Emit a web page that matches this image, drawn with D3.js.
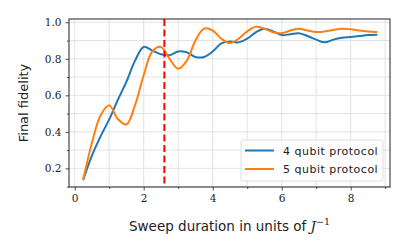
<!DOCTYPE html>
<html>
<head>
<meta charset="utf-8">
<script src="https://cdn.jsdelivr.net/npm/d3@7"></script>
<style>
  body { margin: 0; background: #fff; }
</style>
</head>
<body>
<div id="chart"></div>
<script>
// sweep durations (units of 1/J)
var durations = [0.25, 0.5, 0.75, 1.0, 1.25, 1.5, 1.75, 2.0, 2.25, 2.5, 2.75, 3.0,
    3.25, 3.5, 3.75, 4.0, 4.25, 4.5, 4.75, 5.0, 5.25, 5.5, 5.75, 6.0,
    6.25, 6.5, 6.75, 7.0, 7.25, 7.5, 7.75, 8.0, 8.25, 8.5, 8.75];

var fid4 = [0.14, 0.27, 0.375, 0.468, 0.575, 0.675, 0.79, 0.865, 0.845, 0.825, 0.82, 0.84,
    0.835, 0.81, 0.81, 0.84, 0.885, 0.895, 0.89, 0.91, 0.945, 0.965, 0.95, 0.93,
    0.935, 0.94, 0.925, 0.905, 0.89, 0.905, 0.915, 0.92, 0.925, 0.93, 0.932];

var fid5 = [0.14, 0.34, 0.49, 0.545, 0.47, 0.44, 0.547, 0.71, 0.84, 0.865, 0.80, 0.745,
    0.79, 0.90, 0.965, 0.955, 0.91, 0.886, 0.91, 0.95, 0.975, 0.965, 0.945, 0.94,
    0.955, 0.965, 0.955, 0.947, 0.95, 0.958, 0.965, 0.962, 0.955, 0.95, 0.947];

var seriesNames = ["4 qubit protocol", "5 qubit protocol"];
var seriesColors = ["#1f77b4", "#ff7f0e"];
var cutoff = 2.6;

var xMajor = [0, 2, 4, 6, 8], xMinor = [1, 3, 5, 7, 9];
var yMajor = [0.2, 0.4, 0.6, 0.8, 1.0], yMinor = [0.1, 0.3, 0.5, 0.7, 0.9];

var width = 408, height = 252;
var margin = { top: 19, right: 18, bottom: 65, left: 69 };
var w = width - margin.left - margin.right,
    h = height - margin.top - margin.bottom;

var svg = d3.select("#chart").append("svg")
    .attr("width", width)
    .attr("height", height);

var g = svg.append("g")
    .attr("transform", "translate(" + margin.left + "," + margin.top + ")");

var x = d3.scaleLinear().domain([-0.165, 9.14]).range([0, w]);
var y = d3.scaleLinear().domain([0.098, 1.018]).range([h, 0]);

// grid (major + minor)
g.append("g").selectAll("line")
    .data(xMajor.concat(xMinor))
    .enter().append("line")
    .attr("x1", function(d) { return x(d); })
    .attr("x2", function(d) { return x(d); })
    .attr("y1", 0).attr("y2", h)
    .style("stroke", "#dcdcdc").style("stroke-width", 0.8);

g.append("g").selectAll("line")
    .data(yMajor.concat(yMinor))
    .enter().append("line")
    .attr("y1", function(d) { return y(d); })
    .attr("y2", function(d) { return y(d); })
    .attr("x1", 0).attr("x2", w)
    .style("stroke", "#dcdcdc").style("stroke-width", 0.8);

// axes
g.append("g")
    .attr("transform", "translate(0," + h + ")")
    .call(d3.axisBottom(x).tickValues(xMajor).tickSize(3.5).tickPadding(4).tickFormat(d3.format("d")));
g.append("g")
    .attr("transform", "translate(0," + h + ")")
    .call(d3.axisBottom(x).tickValues(xMinor).tickSize(2).tickFormat(""));

g.append("g")
    .call(d3.axisLeft(y).tickValues(yMajor).tickSize(3.5).tickPadding(4).tickFormat(d3.format(".1f")));
g.append("g")
    .call(d3.axisLeft(y).tickValues(yMinor).tickSize(2).tickFormat(""));

g.selectAll(".domain").remove();
g.selectAll(".tick line").style("stroke", "#222").style("stroke-width", 0.8);
g.selectAll(".tick text")
    .style("font-family", "'DejaVu Serif', 'Liberation Serif', serif")
    .style("font-size", "10.5px")
    .style("fill", "#222");

// lines
var line = d3.line()
    .x(function(d) { return x(d[0]); })
    .y(function(d) { return y(d[1]); })
    .curve(d3.curveCatmullRom.alpha(0.5));

[fid4, fid5].forEach(function(vals, i) {
    g.append("path")
        .datum(durations.map(function(d, j) { return [d, vals[j]]; }))
        .attr("d", line)
        .style("fill", "none")
        .style("stroke", seriesColors[i])
        .style("stroke-width", 2)
        .style("stroke-linecap", "round");
});

// cutoff marker
g.append("line")
    .attr("x1", x(cutoff)).attr("x2", x(cutoff))
    .attr("y1", 0).attr("y2", h)
    .style("stroke", "#ff0000")
    .style("stroke-width", 2)
    .style("stroke-dasharray", "7,3.5");

// frame
g.append("rect")
    .attr("width", w).attr("height", h)
    .style("fill", "none")
    .style("stroke", "#222")
    .style("stroke-width", 1);

// legend
var lg = g.append("g").attr("transform", "translate(" + (w - 149) + "," + (h - 47) + ")");
lg.append("rect")
    .attr("width", 142).attr("height", 41)
    .attr("rx", 2.5)
    .style("fill", "#fff").style("fill-opacity", 0.85)
    .style("stroke", "#d5d5d5").style("stroke-width", 0.8);
seriesNames.forEach(function(name, i) {
    var yy = 10.5 + i * 18.5;
    lg.append("line")
        .attr("x1", 4).attr("x2", 33)
        .attr("y1", yy).attr("y2", yy)
        .style("stroke", seriesColors[i]).style("stroke-width", 2);
    lg.append("text")
        .attr("x", 42).attr("y", yy + 4)
        .style("font-family", "'DejaVu Sans', sans-serif")
        .style("font-size", "11px")
        .style("letter-spacing", "0.5px")
        .style("fill", "#222")
        .text(name);
});

// axis labels
svg.append("text")
    .attr("transform", "translate(28," + (margin.top + h / 2) + ") rotate(-90)")
    .attr("text-anchor", "middle")
    .style("font-family", "'DejaVu Sans', sans-serif")
    .style("font-size", "13px")
    .style("fill", "#222")
    .text("Final fidelity");

var xl = svg.append("text")
    .attr("x", margin.left + w / 2)
    .attr("y", 231)
    .attr("text-anchor", "middle")
    .style("font-family", "'DejaVu Sans', sans-serif")
    .style("font-size", "13.5px")
    .style("fill", "#222");
xl.append("tspan").text("Sweep duration in units of ");
xl.append("tspan")
    .style("font-family", "'DejaVu Serif', serif")
    .style("font-style", "italic")
    .text("J");
xl.append("tspan")
    .attr("dy", -6)
    .style("font-family", "'DejaVu Serif', serif")
    .style("font-size", "9.5px")
    .text("\u22121");
</script>
</body>
</html>
